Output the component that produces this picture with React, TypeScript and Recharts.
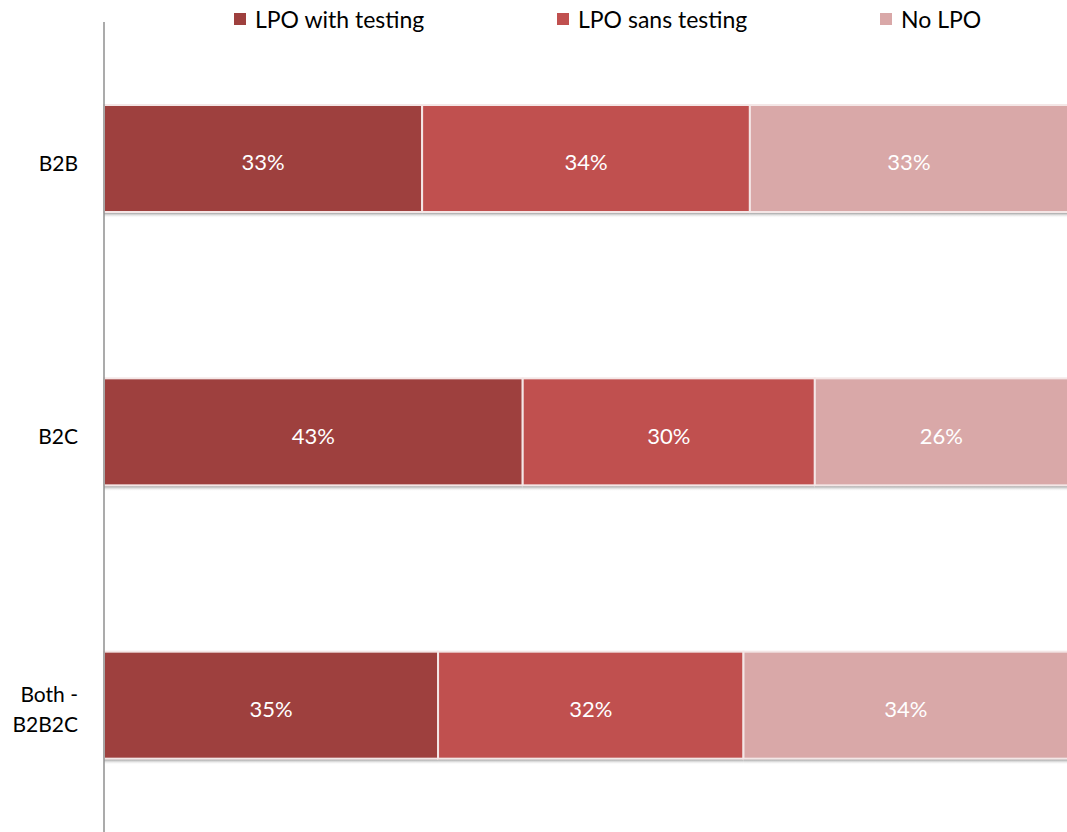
import React from "react";
import { BarChart, Bar, XAxis, YAxis, LabelList } from "recharts";

const categories = ["B2B", "B2C", "Both - B2B2C"];
const withTesting = [33, 43, 35];
const sansTesting = [34, 30, 32];
const noLpo = [33, 26, 34];

const seriesNames = ["LPO with testing", "LPO sans testing", "No LPO"];
const seriesKeys = ["withTesting", "sansTesting", "noLpo"];
const seriesColors = ["#9E403E", "#C0504F", "#D9A8A8"];

const data = categories.map((name, i) => ({
  name,
  withTesting: withTesting[i],
  sansTesting: sansTesting[i],
  noLpo: noLpo[i],
}));

const FONT = "Lato, 'Open Sans', sans-serif";

// bar with a soft grey shadow under it
const ShadowBar = (props: any) => {
  const { x, y, width, height, fill } = props;
  if (width == null || height == null) return null;
  return (
    <g>
      <rect x={x} y={y + height} width={width} height={6} fill="url(#barShadow)" />
      <rect x={x} y={y} width={width} height={height} fill={fill} stroke="#F4E6E6" strokeWidth={2} />
    </g>
  );
};

const CategoryTick = (props: any) => {
  const { x, y, payload } = props;
  const label: string = payload.value;
  const lines = label.includes(" - ") ? [label.split(" - ")[0] + " -", label.split(" - ")[1]] : [label];
  const lineH = 30;
  const start = -((lines.length - 1) * lineH) / 2;
  return (
    <text x={x} y={y} textAnchor="end" fill="#000" fontSize={21} fontFamily={FONT}>
      {lines.map((l, i) => (
        <tspan key={i} x={x} y={y + start + i * lineH} dy={12}>
          {l}
        </tspan>
      ))}
    </text>
  );
};

function LegendRow() {
  return (
    <div style={{ position: "absolute", left: 234, top: 6, display: "flex", fontFamily: FONT, fontSize: 23, color: "#000" }}>
      {seriesNames.map((n, i) => (
        <div key={n} style={{ width: 323, display: "flex", alignItems: "center", height: 26 }}>
          <span style={{ display: "inline-block", width: 12, height: 12, background: seriesColors[i], marginRight: 9 }} />
          <span>{n}</span>
        </div>
      ))}
    </div>
  );
}

export default function App() {
  return (
    <div style={{ position: "fixed", left: 0, top: 0, width: 1067, height: 832, overflow: "hidden", background: "#fff" }}>
      <BarChart
        width={1070}
        height={842}
        data={data}
        layout="vertical"
        stackOffset="expand"
        barSize={107}
        margin={{ top: 22, right: 2, bottom: 0, left: 0 }}
      >
        <defs>
          <linearGradient id="barShadow" x1="0" y1="0" x2="0" y2="1">
            <stop offset="0%" stopColor="#6f6f6f" stopOpacity={0.9} />
            <stop offset="100%" stopColor="#ffffff" stopOpacity={0} />
          </linearGradient>
        </defs>
        <XAxis type="number" hide domain={[0, 1]} />
        <YAxis
          type="category"
          dataKey="name"
          width={104}
          axisLine={{ stroke: "#8f8f8f", strokeWidth: 1.5 }}
          tickLine={false}
          tickMargin={20}
          tick={<CategoryTick />}
        />
        {seriesKeys.map((k, i) => (
          <Bar
            key={k}
            dataKey={k}
            name={seriesNames[i]}
            stackId="a"
            fill={seriesColors[i]}
            shape={<ShadowBar />}
            isAnimationActive={false}
          >
            <LabelList
              dataKey={k}
              position="center"
              formatter={(v: any) => `${v}%`}
              fill="#fff"
              fontSize={22}
              fontFamily={FONT}
              dy={4}
            />
          </Bar>
        ))}
      </BarChart>
      <LegendRow />
    </div>
  );
}
